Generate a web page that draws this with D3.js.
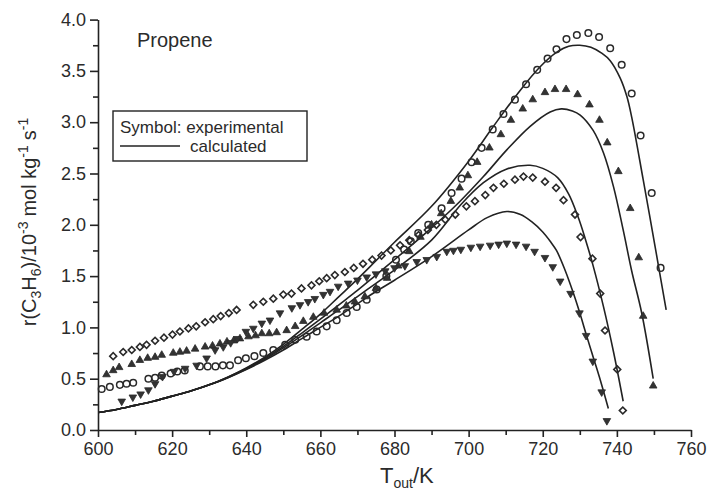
<!DOCTYPE html>
<html><head><meta charset="utf-8">
<script src="https://cdn.jsdelivr.net/npm/d3@7"></script>
<style>
body{margin:0;background:#fff}
text{font-family:"Liberation Sans",Arial,Helvetica,sans-serif;fill:#2b2b2b}
</style>
</head><body>
<svg id="chart" width="709" height="496"></svg>
<script>
// ---- tick labels ----
const xTicks = [600, 620, 640, 660, 680, 700, 720, 740, 760];
const yTicks = [0.0, 0.5, 1.0, 1.5, 2.0, 2.5, 3.0, 3.5, 4.0];

// ---- experimental series [T_out (K), r] ----
const expCircle = [[601.0,0.40],[603.2,0.42],[605.9,0.44],[607.7,0.45],[609.5,0.46],[613.6,0.50],[615.4,0.51],[617.2,0.53],[619.6,0.55],[621.4,0.57],[623.4,0.58],[627.5,0.62],[629.6,0.62],[631.7,0.62],[633.7,0.63],[635.6,0.63],[637.8,0.68],[639.9,0.70],[642.2,0.72],[644.6,0.75],[647.3,0.78],[650.5,0.83],[653.2,0.88],[656.3,0.91],[659.0,0.96],[661.7,1.01],[664.4,1.07],[667.1,1.14],[669.8,1.20],[672.5,1.27],[675.2,1.37],[677.8,1.50],[680.4,1.66],[682.6,1.76],[684.4,1.84],[686.4,1.92],[689.1,2.00],[692.7,2.16],[695.4,2.31],[698.1,2.45],[700.8,2.61],[703.5,2.75],[706.5,2.93],[709.4,3.08],[712.5,3.22],[715.5,3.37],[718.5,3.51],[721.3,3.62],[723.7,3.71],[726.4,3.81],[729.2,3.85],[732.3,3.87],[735.2,3.83],[738.2,3.72],[741.3,3.56],[744.0,3.28],[746.4,2.87],[749.4,2.31],[751.8,1.58]];

const expTriUp = [[602.3,0.54],[604.1,0.58],[605.7,0.61],[609.1,0.64],[611.3,0.68],[613.4,0.70],[615.4,0.71],[617.2,0.73],[620.3,0.75],[622.1,0.76],[623.9,0.77],[626.2,0.79],[628.9,0.81],[630.9,0.82],[632.9,0.84],[634.8,0.86],[636.6,0.87],[638.3,0.89],[640.6,0.91],[642.5,0.92],[644.2,0.94],[646.2,0.94],[648.2,0.95],[650.9,0.97],[653.2,1.01],[655.4,1.06],[658.1,1.10],[661.0,1.14],[664.4,1.17],[667.0,1.21],[669.3,1.25],[672.0,1.30],[675.0,1.38],[678.0,1.48],[681.0,1.60],[684.0,1.74],[687.0,1.88],[690.0,2.00],[692.6,2.11],[695.2,2.23],[697.6,2.36],[699.8,2.48],[702.3,2.61],[705.6,2.75],[708.7,2.88],[711.4,3.02],[714.6,3.13],[717.3,3.22],[720.6,3.29],[723.3,3.32],[726.3,3.32],[729.4,3.27],[732.6,3.17],[735.3,3.02],[737.4,2.80],[740.4,2.52],[743.6,2.16],[745.9,1.68],[747.1,1.11],[749.8,0.43]];

const expDiamond = [[604.1,0.72],[606.8,0.76],[609.1,0.78],[611.3,0.81],[613.1,0.83],[615.4,0.87],[617.8,0.90],[620.1,0.93],[622.1,0.96],[624.4,0.99],[626.5,1.01],[628.9,1.05],[631.1,1.08],[633.1,1.11],[635.3,1.14],[637.4,1.17],[641.9,1.22],[644.6,1.25],[647.3,1.28],[650.0,1.32],[652.2,1.33],[654.9,1.38],[657.6,1.41],[659.7,1.45],[661.7,1.48],[663.9,1.51],[666.6,1.54],[669.0,1.58],[671.5,1.62],[674.0,1.66],[676.5,1.70],[679.0,1.75],[681.5,1.80],[684.0,1.85],[686.5,1.90],[689.0,1.95],[691.3,2.00],[693.7,2.05],[696.4,2.10],[699.4,2.18],[701.7,2.23],[704.5,2.29],[706.7,2.36],[709.5,2.40],[712.5,2.44],[714.8,2.47],[717.3,2.46],[720.6,2.42],[723.6,2.36],[725.6,2.24],[728.7,2.10],[730.2,1.88],[733.4,1.67],[735.5,1.33],[736.8,0.97],[740.1,0.59],[741.6,0.19]];

const expTriDown = [[606.4,0.28],[609.4,0.32],[611.5,0.35],[613.6,0.39],[615.4,0.45],[617.4,0.52],[620.5,0.57],[623.5,0.60],[626.6,0.63],[629.3,0.70],[631.6,0.78],[633.8,0.81],[635.8,0.85],[637.6,0.89],[639.9,0.96],[641.9,0.99],[644.2,1.04],[646.4,1.07],[649.1,1.14],[652.3,1.19],[654.5,1.22],[656.7,1.25],[658.5,1.28],[660.8,1.32],[662.6,1.35],[664.8,1.40],[667.5,1.43],[670.0,1.46],[672.5,1.49],[675.0,1.52],[677.5,1.55],[680.0,1.58],[682.8,1.60],[686.0,1.64],[688.7,1.66],[691.4,1.69],[694.1,1.74],[695.9,1.75],[697.9,1.76],[700.6,1.78],[703.1,1.79],[705.8,1.80],[708.1,1.81],[710.3,1.82],[712.8,1.81],[715.5,1.79],[717.8,1.74],[720.6,1.68],[722.7,1.59],[724.7,1.45],[727.5,1.33],[729.9,1.14],[731.7,0.92],[733.5,0.67],[735.9,0.37],[737.3,0.09]];

// ---- calculated curves [T_out (K), r] ----
const calcCircle = [[600,0.17],[605,0.20],[610,0.24],[615,0.28],[620,0.33],[625,0.38],[630,0.44],[635,0.515],[640,0.605],[645,0.71],[650,0.835],[655,0.98],[660,1.13],[665,1.30],[670,1.47],[675,1.65],[680,1.83],[690,2.18],[700,2.62],[706.7,2.96],[713.9,3.31],[719.3,3.54],[723.7,3.68],[727,3.74],[730,3.75],[733,3.73],[736,3.67],[738.2,3.60],[740.9,3.43],[742.7,3.25],[744,3.05],[747.1,2.44],[750.3,1.79],[753.3,1.17]];
const calcTriUp = [[600,0.17],[605,0.20],[610,0.24],[615,0.28],[620,0.33],[625,0.38],[630,0.44],[635,0.515],[640,0.60],[645,0.70],[650,0.815],[655,0.945],[660,1.08],[665,1.22],[670,1.36],[675,1.51],[680,1.66],[690,1.97],[697.7,2.23],[704,2.47],[710.3,2.73],[716.6,2.96],[722,3.10],[725,3.13],[728,3.11],[730.1,3.07],[733.6,2.92],[736.4,2.70],[739.1,2.37],[741.7,1.95],[744,1.55],[746.7,1.14],[749.8,0.50]];
const calcDiamond = [[600,0.17],[605,0.20],[610,0.24],[615,0.28],[620,0.33],[625,0.38],[630,0.44],[635,0.51],[640,0.595],[645,0.69],[650,0.80],[655,0.92],[660,1.045],[665,1.17],[670,1.30],[675,1.43],[680,1.56],[690,1.85],[698,2.20],[704,2.41],[710,2.54],[716.6,2.58],[720,2.55],[724,2.46],[727,2.30],[729.5,2.08],[731.5,1.86],[733.6,1.60],[736.4,1.20],[739.1,0.76],[741.7,0.28]];
const calcTriDown = [[600,0.17],[605,0.20],[610,0.24],[615,0.28],[620,0.33],[625,0.38],[630,0.44],[635,0.51],[640,0.59],[645,0.68],[650,0.78],[655,0.89],[660,1.00],[665,1.11],[670,1.23],[675,1.35],[680,1.46],[690,1.69],[700,1.95],[705,2.07],[710.3,2.13],[714,2.10],[717,2.03],[720,1.93],[722,1.84],[723.7,1.75],[726,1.56],[728.3,1.33],[730,1.14],[731.9,0.91],[733.7,0.70],[735.5,0.49],[737.7,0.21]];

const ink = "#222";
const svg = d3.select("#chart");
const x = d3.scaleLinear().domain([600, 760]).range([98, 691]);
const y = d3.scaleLinear().domain([0, 4]).range([430, 19.6]);

// ---- axes ----
const xMinor = d3.range(610, 760, 20);
const yMinor = d3.range(0.25, 4, 0.5);

function styleAxis(g){
  g.selectAll("path.domain").attr("stroke", ink).attr("stroke-width", 1.6);
  g.selectAll(".tick line").attr("stroke", ink).attr("stroke-width", 1.6);
  g.selectAll("text").attr("font-size", 18).attr("fill", "#2b2b2b")
   .attr("font-family", '"Liberation Sans",Arial,sans-serif');
}
const gx = svg.append("g").attr("transform", "translate(0,430)")
  .call(d3.axisBottom(x).tickValues(xTicks).tickSize(7).tickSizeOuter(0).tickPadding(5).tickFormat(d3.format("d")));
styleAxis(gx);
const gxm = svg.append("g").attr("transform", "translate(0,430)")
  .call(d3.axisBottom(x).tickValues(xMinor).tickSize(5).tickFormat(""));
gxm.select("path.domain").remove(); styleAxis(gxm);

const gy = svg.append("g").attr("transform", "translate(98,0)")
  .call(d3.axisLeft(y).tickValues(yTicks).tickSize(8).tickSizeOuter(0).tickPadding(4).tickFormat(d3.format(".1f")));
styleAxis(gy);
const gym = svg.append("g").attr("transform", "translate(98,0)")
  .call(d3.axisLeft(y).tickValues(yMinor).tickSize(5).tickFormat(""));
gym.select("path.domain").remove(); styleAxis(gym);

// ---- calculated lines ----
const line = d3.line().x(d => x(d[0])).y(d => y(d[1])).curve(d3.curveCatmullRom.alpha(0.5));
[calcCircle, calcTriUp, calcDiamond, calcTriDown].forEach(s => {
  svg.append("path").datum(s).attr("d", line)
    .attr("fill", "none").attr("stroke", ink).attr("stroke-width", 1.6);
});

// ---- experimental symbols ----
const sym = d3.symbol();
function drawPoints(data, type, size, rot, filled, sw){
  svg.append("g").selectAll("path").data(data).join("path")
    .attr("d", sym.type(type).size(size)())
    .attr("transform", d => `translate(${x(d[0])},${y(d[1])}) rotate(${rot})`)
    .attr("fill", filled ? "#333" : "none")
    .attr("stroke", "#2a2a2a")
    .attr("stroke-width", sw);
}
drawPoints(expCircle, d3.symbolCircle, 34, 0, false, 1.5);
drawPoints(expTriUp, d3.symbolTriangle, 25, 0, true, 0.8);
drawPoints(expDiamond, d3.symbolSquare, 24, 45, false, 1.6);
drawPoints(expTriDown, d3.symbolTriangle, 25, 180, true, 0.8);

// ---- labels ----
svg.append("text").attr("x", 137).attr("y", 47).attr("font-size", 20).text("Propene");

// legend
svg.append("rect").attr("x", 113).attr("y", 111).attr("width", 194).attr("height", 50)
  .attr("fill", "#fff").attr("stroke", ink).attr("stroke-width", 1.4);
svg.append("text").attr("x", 120).attr("y", 133).attr("font-size", 17).text("Symbol: experimental");
svg.append("line").attr("x1", 120).attr("x2", 180).attr("y1", 146).attr("y2", 146)
  .attr("stroke", ink).attr("stroke-width", 1.6);
svg.append("text").attr("x", 190).attr("y", 152).attr("font-size", 17).text("calculated");

// x title
const xt = svg.append("text").attr("x", 380).attr("y", 483).attr("font-size", 22);
xt.append("tspan").text("T");
xt.append("tspan").attr("font-size", 14).attr("dy", 5).text("out");
xt.append("tspan").attr("dy", -5).text("/K");

// y title
const yt = svg.append("text").attr("transform", "translate(36,222) rotate(-90)")
  .attr("text-anchor", "middle").attr("font-size", 20);
yt.append("tspan").text("r(C");
yt.append("tspan").attr("font-size", 14).attr("dy", 5).text("3");
yt.append("tspan").attr("dy", -5).text("H");
yt.append("tspan").attr("font-size", 14).attr("dy", 5).text("6");
yt.append("tspan").attr("dy", -5).text(")/10");
yt.append("tspan").attr("font-size", 14).attr("dy", -8).text("-3");
yt.append("tspan").attr("dy", 8).attr("dx", 5).text("mol kg");
yt.append("tspan").attr("font-size", 14).attr("dy", -8).text("-1");
yt.append("tspan").attr("dy", 8).attr("dx", 5).text("s");
yt.append("tspan").attr("font-size", 14).attr("dy", -8).text("-1");
</script>
</body></html>
